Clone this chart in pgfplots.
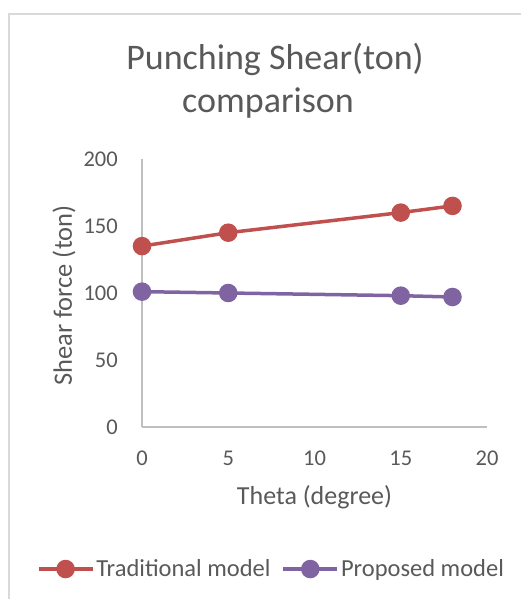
\documentclass[border=0pt]{standalone}
\usepackage{pgfplots}
\pgfplotsset{compat=1.18}
\usepackage{fontspec}
\setmainfont{Carlito}
\definecolor{txt}{HTML}{595959}
\definecolor{axln}{HTML}{BFBFBF}
\definecolor{frm}{HTML}{D9D9D9}
\definecolor{cred}{HTML}{C0504D}
\definecolor{cpur}{HTML}{8064A2}
\begin{document}
\begin{tikzpicture}
\useasboundingbox (0pt,0pt) rectangle (521pt,599pt);
\draw[frm, line width=1.5pt] (9pt,-5pt) -- (9pt,585pt) -- (530pt,585pt);
\node[font=\fontsize{36}{36}\selectfont, text=txt, anchor=base] at (275pt,529pt) {Punching Shear(ton)};
\node[font=\fontsize{36}{36}\selectfont, text=txt, anchor=base] at (268pt,486pt) {comparison};
\begin{axis}[
  at={(142pt,172pt)}, anchor=south west,
  scale only axis, width=345pt, height=268pt,
  xmin=0, xmax=20, ymin=0, ymax=200,
  xtick={0,5,10,15,20}, ytick={0,50,100,150,200},
  axis x line=bottom, axis y line=left,
  axis line style={-, draw=axln, line width=1.5pt},
  major tick length=0pt,
  /pgf/number format/assume math mode=true,
  tick label style={font=\fontsize{22.5}{22.5}\selectfont, text=txt},
  xticklabel style={anchor=base, yshift=-38pt, inner sep=0pt},
  yticklabel style={anchor=east, xshift=-24pt, inner sep=0pt},
  xlabel={Theta (degree)}, ylabel={Shear force (ton)},
  xlabel style={font=\fontsize{26}{26}\selectfont, text=txt, at={(axis description cs:0.5,-0.291)}, anchor=base},
  ylabel style={font=\fontsize{26.5}{26.5}\selectfont, text=txt, at={(axis description cs:-0.203,0.49)}, anchor=base},
  legend columns=2,
  legend style={at={(0.375,-0.53)}, anchor=center, draw=none, fill=none,
    font=\fontsize{24.5}{24.5}\selectfont, text=txt,
    /tikz/every even column/.append style={column sep=9pt},
    inner sep=0pt},
  legend image code/.code={\draw[mark repeat=2, mark phase=2] plot coordinates {(0pt,0pt) (27pt,0pt) (54pt,0pt)};},
  clip=false,
]
\addplot[cred, line width=3.5pt, mark=*, mark size=7.5pt, mark options={solid}] coordinates {(0,135) (5,145) (15,160) (18,165)};
\addlegendentry{Traditional model}
\addplot[cpur, line width=3.5pt, mark=*, mark size=7.5pt, mark options={solid}] coordinates {(0,101) (5,100) (15,98) (18,97)};
\addlegendentry{Proposed model}
\end{axis}
\end{tikzpicture}
\end{document}
